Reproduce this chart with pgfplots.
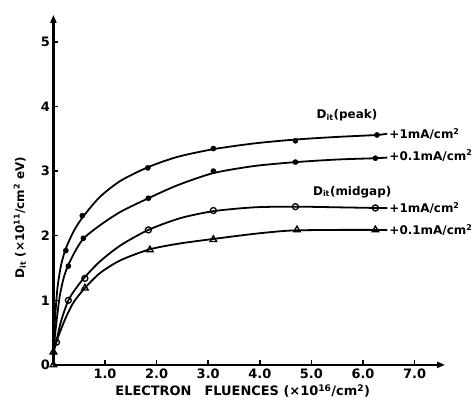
\documentclass[border=0pt]{standalone}
\usepackage{fontspec}
\setmainfont{DejaVu Sans}
\usepackage{pgfplots}
\pgfplotsset{compat=1.18}
\usetikzlibrary{arrows.meta}
\newcommand{\lf}{\fontsize{12}{14}\selectfont\bfseries}
\newcommand{\tf}{\fontsize{13}{15}\selectfont\bfseries}
\begin{document}
\begin{tikzpicture}
\begin{axis}[
 scale only axis, width=391.6bp, height=350bp,
 xmin=0, xmax=7.59, ymin=0, ymax=5.42,
 axis lines=left,
 axis line style={line width=2.2bp, -{Triangle[length=8bp,width=6bp]}},
 xtick={1,2,...,7}, xticklabels={1.0,2.0,3.0,4.0,5.0,6.0,7.0},
 ytick={0,1,...,5},
 tick align=inside, major tick length=5bp,
 tick style={line width=1.5bp, black},
 tick label style={font=\tf},
 /pgf/number format/assume math mode=true,
 clip=false,
]
% curves
\addplot[line width=1.8bp, smooth, tension=0.45] coordinates {(0.0,0.2)(0.03,0.7)(0.08,1.2)(0.15,1.55)(0.24,1.80)(0.4,2.08)(0.58,2.30)(0.9,2.6)(1.3,2.85)(1.83,3.06)(2.4,3.22)(3.1,3.34)(3.9,3.43)(4.7,3.49)(5.5,3.53)(6.27,3.56)(6.47,3.58)};
\addplot[line width=1.8bp, smooth, tension=0.45] coordinates {(0.0,0.2)(0.05,0.6)(0.12,1.05)(0.2,1.35)(0.29,1.55)(0.45,1.80)(0.6,1.97)(0.9,2.16)(1.3,2.37)(1.84,2.58)(2.4,2.78)(3.1,2.97)(3.9,3.08)(4.7,3.14)(5.5,3.18)(6.24,3.20)(6.47,3.21)};
\addplot[line width=1.8bp, smooth, tension=0.45] coordinates {(0.0,0.2)(0.06,0.38)(0.15,0.68)(0.29,1.0)(0.45,1.2)(0.61,1.36)(0.9,1.6)(1.3,1.85)(1.84,2.09)(2.45,2.27)(3.1,2.38)(3.9,2.44)(4.7,2.45)(5.5,2.44)(6.24,2.43)(6.47,2.43)};
\addplot[line width=1.8bp, smooth, tension=0.45] coordinates {(0.0,0.2)(0.1,0.45)(0.25,0.75)(0.4,0.98)(0.61,1.19)(0.9,1.42)(1.3,1.62)(1.87,1.79)(2.45,1.88)(3.1,1.95)(3.9,2.03)(4.6,2.08)(5.5,2.09)(6.24,2.09)(6.47,2.09)};
% data points
\addplot[only marks, mark=*, mark size=2.6bp] coordinates {(0.24,1.77)(0.56,2.31)(1.83,3.05)(3.1,3.35)(4.69,3.47)(6.27,3.56)};
\addplot[only marks, mark=*, mark size=2.6bp] coordinates {(0.29,1.53)(0.58,1.96)(1.84,2.58)(3.1,3.0)(4.69,3.14)(6.24,3.20)};
\addplot[only marks, mark=o, mark size=3bp, line width=1.3bp, mark options={fill=white}] coordinates {(0.06,0.35)(0.29,1.00)(0.61,1.34)(1.84,2.09)(3.1,2.39)(4.69,2.45)(6.24,2.43)};
\addplot[only marks, mark=triangle, mark size=3.8bp, line width=1.3bp, mark options={fill=white}] coordinates {(0.0,0.0)(0.0,0.2)(0.61,1.19)(1.87,1.78)(3.1,1.94)(4.72,2.09)(6.24,2.09)};
% labels
\node[font=\lf] at (axis cs:5.69,3.87) {D\textsubscript{it}(peak)};
\node[font=\lf, anchor=west, inner sep=1bp] at (axis cs:6.49,3.57) {+1mA/cm\textsuperscript{2}};
\node[font=\lf, anchor=west, inner sep=1bp] at (axis cs:6.49,3.24) {+0.1mA/cm\textsuperscript{2}};
\node[font=\lf] at (axis cs:5.79,2.68) {D\textsubscript{it}(midgap)};
\node[font=\lf, anchor=west, inner sep=1bp] at (axis cs:6.49,2.43) {+1mA/cm\textsuperscript{2}};
\node[font=\lf, anchor=west, inner sep=1bp] at (axis cs:6.49,2.09) {+0.1mA/cm\textsuperscript{2}};
\node[font=\tf] at (axis cs:3.67,-0.40) {ELECTRON\quad FLUENCES\ (×10\textsuperscript{16}/cm\textsuperscript{2})};
\node[font=\lf, rotate=90] at (axis cs:-0.65,2.28) {D\textsubscript{it} (×10\textsuperscript{11}/cm\textsuperscript{2} eV)};
\coordinate (BL) at (axis cs:-1.035,-0.743);
\coordinate (TR) at (axis cs:8.151,5.650);
\end{axis}
\pgfresetboundingbox
\useasboundingbox (BL) rectangle (TR);
\end{tikzpicture}
\end{document}
